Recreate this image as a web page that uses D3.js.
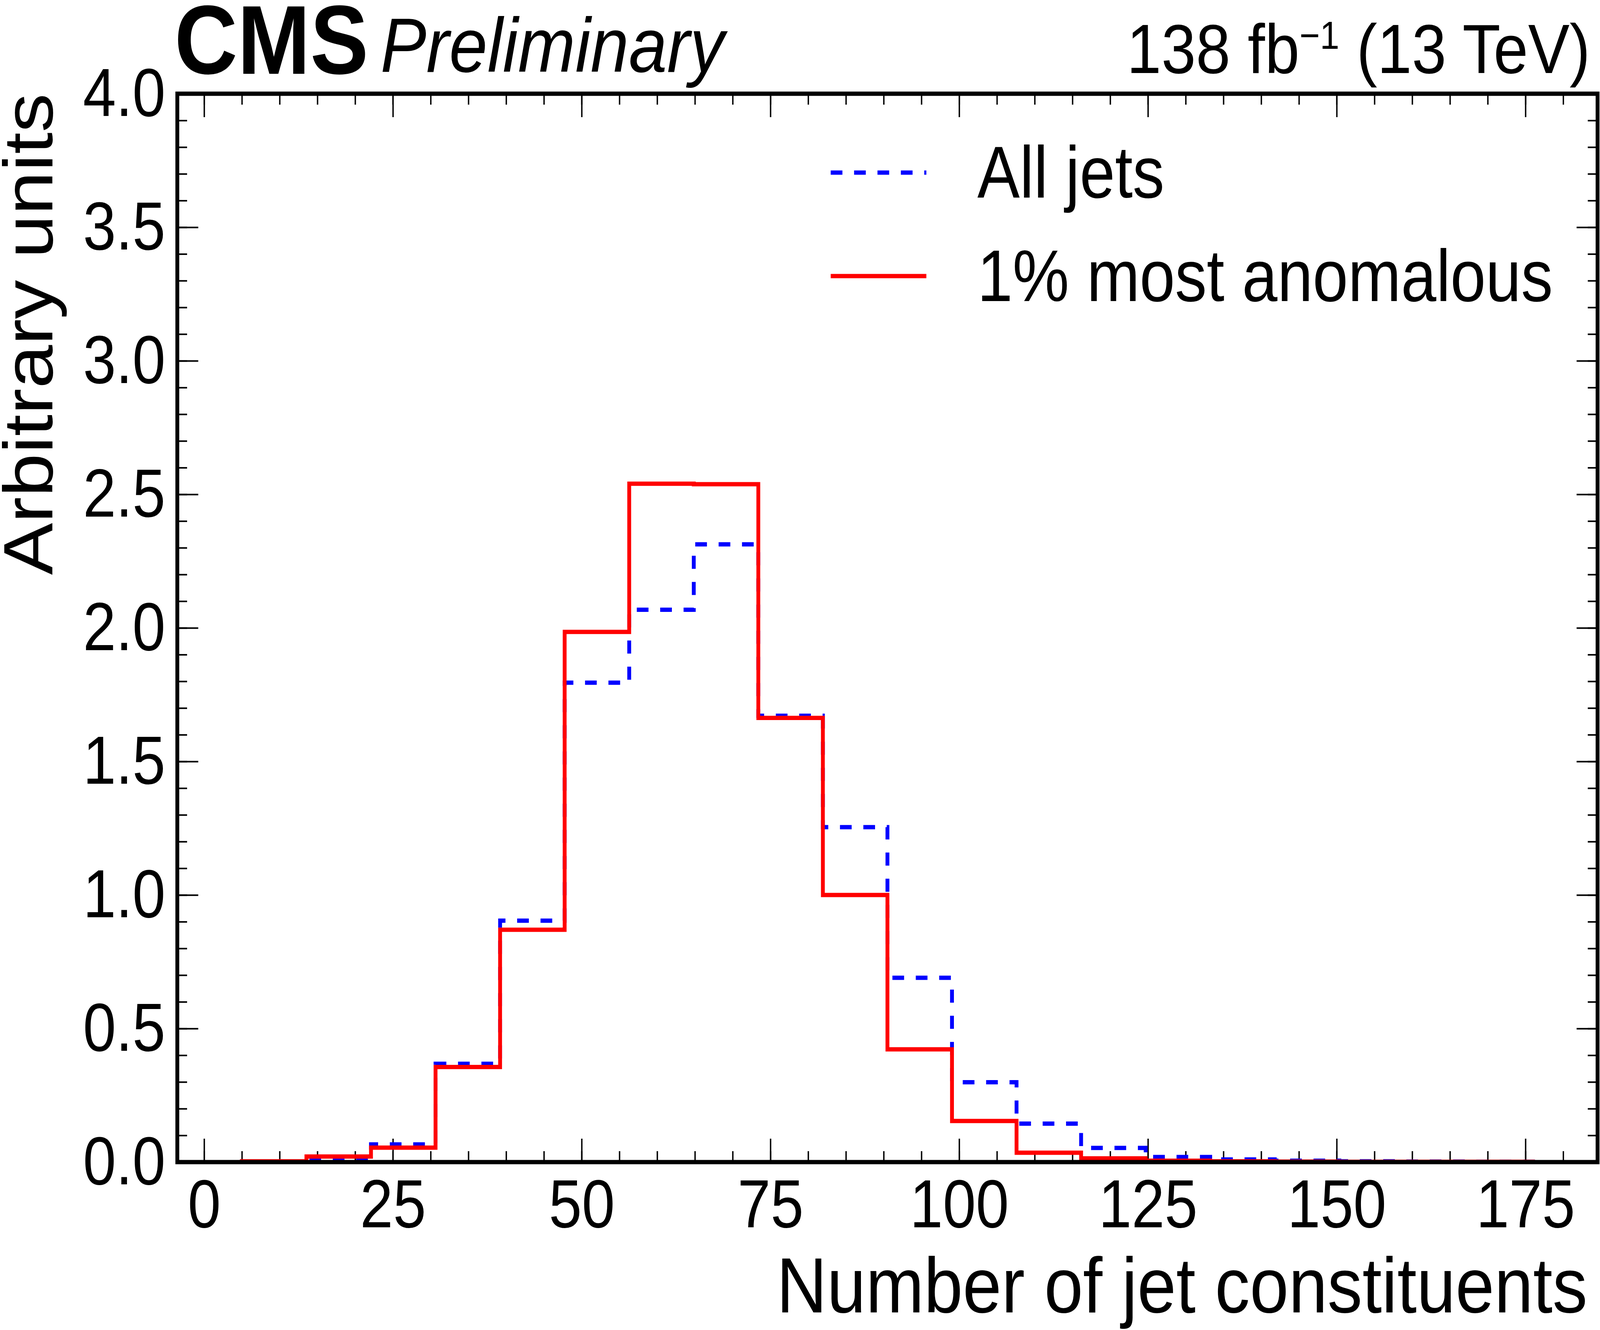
<!DOCTYPE html>
<html lang="en">
<head>
<meta charset="UTF-8">
<title>Number of jet constituents</title>
<script src="https://d3js.org/d3.v7.min.js"></script>
<style>
  html, body { margin: 0; padding: 0; background: #fff; overflow: hidden; }
  svg { display: block; width: 100vw; height: 100vh; font-family: 'Liberation Sans', Arial, Helvetica, sans-serif; }
  .tick line { stroke: #000; stroke-width: 4; }
  .tick text { font-size: 170px; fill: #000; }
</style>
</head>
<body>
<svg viewBox="0 0 4584 3406" preserveAspectRatio="none"></svg>
<script>
// histogram bin edges (20 bins) and normalised contents
const binEdges = [5, 13.55, 22.1, 30.65, 39.2, 47.75, 56.3, 64.85, 73.4, 81.95, 90.5,
  99.05, 107.6, 116.15, 124.7, 133.25, 141.8, 150.35, 158.9, 167.45, 176];
const allJets = [0.001, 0.011, 0.066, 0.368, 0.904, 1.795, 2.068, 2.313, 1.671, 1.254,
  0.690, 0.299, 0.144, 0.053, 0.019, 0.010, 0.005, 0.003, 0.002, 0.001];
const mostAnomalous = [0.003, 0.021, 0.054, 0.356, 0.870, 1.985, 2.540, 2.538, 1.663, 1.000,
  0.422, 0.154, 0.035, 0.014, 0.005, 0.003, 0.002, 0.001, 0.001, 0.001];
const seriesNames = ['All jets', '1% most anomalous'];
const xTicks = [0, 25, 50, 75, 100, 125, 150, 175];
const yTicks = [0, 0.5, 1.0, 1.5, 2.0, 2.5, 3.0, 3.5, 4.0];

const svg = d3.select('svg');
const margin = {top: 240, right: 7, bottom: 430, left: 508};
const width = 4584 - margin.left - margin.right;
const height = 3406 - margin.top - margin.bottom;

// keep the measured width of a text but make the glyphs a bit taller
function fitText(sel, grow) {
  sel.each(function () {
    const len = this.getComputedTextLength();
    const fs = parseFloat(getComputedStyle(this).fontSize);
    d3.select(this)
      .style('font-size', (fs * grow) + 'px')
      .attr('textLength', len)
      .attr('lengthAdjust', 'spacingAndGlyphs');
  });
}

const chart = svg.append('g')
  .attr('transform', `translate(${margin.left}, ${margin.top})`);

const xScale = d3.scaleLinear().domain([-3.55, 184.55]).range([0, width]);
const yScale = d3.scaleLinear().domain([0, 4]).range([height, 0]);

const xMinor = d3.range(0, 185, 5);
const yMinor = d3.range(0, 4.001, 0.1);

const noDomain = g => g.select('.domain').remove();

// bottom / top axes
chart.append('g')
  .attr('transform', `translate(0, ${height})`)
  .call(d3.axisBottom(xScale).tickValues(xMinor).tickSize(-28).tickFormat(''))
  .call(noDomain);
const xAxis = chart.append('g')
  .attr('transform', `translate(0, ${height})`)
  .call(d3.axisBottom(xScale).tickValues(xTicks).tickSize(-60).tickPadding(43).tickFormat(d3.format('d')))
  .call(noDomain);
chart.append('g')
  .call(d3.axisTop(xScale).tickValues(xMinor).tickSize(-28).tickFormat(''))
  .call(noDomain);
chart.append('g')
  .call(d3.axisTop(xScale).tickValues(xTicks).tickSize(-60).tickFormat(''))
  .call(noDomain);

// left / right axes
chart.append('g')
  .call(d3.axisLeft(yScale).tickValues(yMinor).tickSize(-28).tickFormat(''))
  .call(noDomain);
const yAxis = chart.append('g')
  .call(d3.axisLeft(yScale).tickValues(yTicks).tickSize(-60).tickPadding(34).tickFormat(d3.format('.1f')))
  .call(noDomain);
chart.append('g')
  .attr('transform', `translate(${width}, 0)`)
  .call(d3.axisRight(yScale).tickValues(yMinor).tickSize(-28).tickFormat(''))
  .call(noDomain);
chart.append('g')
  .attr('transform', `translate(${width}, 0)`)
  .call(d3.axisRight(yScale).tickValues(yTicks).tickSize(-60).tickFormat(''))
  .call(noDomain);

fitText(xAxis.selectAll('.tick text'), 1.03);
fitText(yAxis.selectAll('.tick text'), 1.03);

// step histograms
const stepLine = d3.line()
  .x(d => xScale(d[0]))
  .y(d => yScale(d[1]))
  .curve(d3.curveStepAfter);

const histPoints = (vals) => [[binEdges[0], 0]]
  .concat(vals.map((v, i) => [binEdges[i], v]))
  .concat([[binEdges[binEdges.length - 1], 0]]);

chart.append('path')
  .datum(histPoints(allJets))
  .attr('d', stepLine)
  .attr('fill', 'none')
  .attr('stroke', '#0000ff')
  .attr('stroke-width', 11)
  .attr('stroke-dasharray', '33.5,33.5');

chart.append('path')
  .datum(histPoints(mostAnomalous))
  .attr('d', stepLine)
  .attr('fill', 'none')
  .attr('stroke', '#ff0000')
  .attr('stroke-width', 11);

// frame
chart.append('rect')
  .attr('x', 0).attr('y', 0)
  .attr('width', width).attr('height', height)
  .attr('fill', 'none')
  .attr('stroke', '#000')
  .attr('stroke-width', 11);

// legend
const legend = svg.append('g');
const legendRows = [
  {name: seriesNames[0], color: '#0000ff', dash: '33.5,33.5', y: 442},
  {name: seriesNames[1], color: '#ff0000', dash: null, y: 707}
];
legendRows.forEach(r => {
  legend.append('line')
    .attr('x1', 2380).attr('x2', 2654)
    .attr('y1', r.y).attr('y2', r.y)
    .attr('stroke', r.color)
    .attr('stroke-width', 11)
    .attr('stroke-dasharray', r.dash);
  legend.append('text')
    .attr('class', 'legend-text')
    .attr('x', 2800)
    .attr('y', r.y + 64)
    .style('font-size', '182px')
    .text(r.name);
});
fitText(legend.selectAll('.legend-text'), 1.03);

// axis labels
svg.append('text')
  .attr('x', 4548)
  .attr('y', 3361)
  .attr('text-anchor', 'end')
  .style('font-size', '200px')
  .text('Number of jet constituents');

svg.append('text')
  .attr('transform', 'rotate(-90)')
  .attr('x', -239)
  .attr('y', 150)
  .attr('text-anchor', 'end')
  .style('font-size', '200px')
  .text('Arbitrary units');

// CMS header
svg.append('text')
  .attr('x', 500)
  .attr('y', 189)
  .style('font-size', '250px')
  .attr('font-weight', 'bold')
  .text('CMS');

svg.append('text')
  .attr('x', 1090)
  .attr('y', 184)
  .style('font-size', '197px')
  .attr('font-style', 'italic')
  .text('Preliminary');

const lumi = svg.append('text')
  .attr('x', 4556)
  .attr('y', 187)
  .attr('text-anchor', 'end')
  .style('font-size', '178px');
lumi.append('tspan').text('138 fb');
lumi.append('tspan').attr('dy', -62).style('font-size', '100px').text('\u22121');
lumi.append('tspan').attr('dy', 62).text(' (13 TeV)');
</script>
</body>
</html>
